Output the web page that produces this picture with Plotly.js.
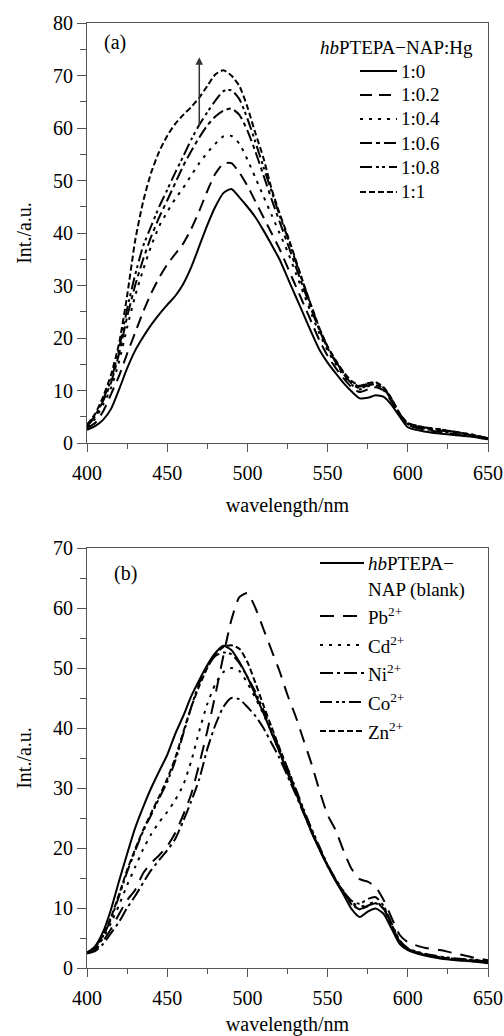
<!DOCTYPE html>
<html>
<head>
<meta charset="utf-8">
<script src="https://cdn.plot.ly/plotly-3.0.1.min.js"></script>
<style>html,body{margin:0;padding:0;background:#fff;}#chart{width:504px;height:1036px;}</style>
</head>
<body>
<div id="chart"></div>
<script>
// wavelength grid (nm)
const wavelength = [400,405,410,415,420,425,430,435,440,445,450,455,460,465,470,475,480,485,490,495,500,505,510,515,520,525,530,535,540,545,550,555,560,565,570,575,580,585,590,595,600,610,620,630,640,650];

// panel (a): hbPTEPA-NAP:Hg ratios
const ratioNames = ["1:0","1:0.2","1:0.4","1:0.6","1:0.8","1:1"];
const a_1_0   = [2.5,3.2,4.4,6.5,10.2,14.2,17.6,20.2,22.5,24.5,26.3,28,30.3,33.5,37.5,41.5,45,47.6,48.4,46.8,45,43,40.5,37.8,35,31.5,28,24.5,21,17.7,15.3,13.3,11.4,9.8,8.5,8.6,9.1,8.8,7.2,5.0,3.0,2.2,1.8,1.5,1.2,0.7];
const a_1_02  = [2.8,3.8,6.0,9.3,12.8,17,21,25,28.5,31.5,34,36,38,40.8,44.2,48,51.3,53.2,53.3,51.5,49,46,43,40,37,33.5,30,26.5,23,19.5,16.6,14.3,12.3,10.6,9.7,10.2,10.6,10.0,7.8,5.2,3.4,2.6,2.1,1.7,1.3,0.8];
const a_1_04  = [3.0,4.6,7.3,10.5,15.5,22,28,33,37.5,41.3,44,46.5,48.6,51,53.3,55.3,57,58.4,58.5,57,54,50.5,47,43.5,40,36.5,32.5,28.5,24.5,20.8,17.6,15.0,12.8,11.1,10.2,10.8,11.0,10.2,8.0,5.3,3.5,2.7,2.3,1.8,1.4,0.8];
const a_1_06  = [3.2,5.0,8.0,11.5,17,24,30,35,39.3,43,46.2,49.5,52.8,55.6,58.2,60.5,62.2,63.3,63.7,62.5,59.5,55.5,51,46.5,42.2,38,33.7,29.5,25.3,21.4,18.1,15.4,13.1,11.3,10.4,11.0,11.2,10.3,8.1,5.4,3.6,2.8,2.4,2.0,1.5,0.9];
const a_1_08  = [3.3,5.2,8.3,12,18,25.5,32,37.5,41.3,45,48.2,51.5,54.6,57.8,60.6,63,65.2,67,67.2,65.5,61.8,57.3,52.6,48,43.4,39.2,34.7,30.2,25.9,21.7,18.3,15.6,13.3,11.6,10.7,11.3,11.5,10.5,8.3,5.5,3.8,3.0,2.6,2.1,1.6,0.9];
const a_1_1   = [3.5,5.5,8.8,13,19,28,38.5,46,51.5,55.5,58.5,60.8,62.5,64,65.8,68,70.2,71,70,68,64,59,54.3,48.5,43.8,39.6,35,30.4,26,21.8,18.4,15.8,13.5,11.8,10.9,11.4,11.6,10.6,8.4,5.6,3.8,3.0,2.6,2.1,1.6,0.9];

// panel (b): metal ions
const ionNames = ["<i>hb</i>PTEPA−NAP (blank)","Pb<sup>2+</sup>","Cd<sup>2+</sup>","Ni<sup>2+</sup>","Co<sup>2+</sup>","Zn<sup>2+</sup>"];
const b_blank = [2.5,3.6,6,9.8,14.5,19,23.3,26.8,30,32.8,35.5,39,42,45.3,48,50.5,52.5,53.7,53,51,48.5,45.5,42.5,39.2,36,32.5,29.3,26,22.6,19.7,17,14.5,12.2,9.8,8.5,9.4,9.9,9.0,6.5,4.0,3.0,2.1,1.6,1.3,1.1,0.8];
const b_pb    = [2.5,3.0,4.5,6.5,9,11.3,13,15.8,17.5,18.8,20.3,22.5,25.5,29,34,39.5,45.5,52,58,61.8,62.5,60,56.5,53,49.5,45.5,42,38,34,29.5,25.5,23,19.5,16.5,14.8,14.4,13.5,11.3,8.3,5.5,4.3,3.4,3.0,2.4,1.8,1.3];
const b_cd    = [2.5,3.2,5,7.5,10.5,13.8,16.8,19.8,22.3,24.3,26,28,30.5,34.5,39.5,44,47.3,49.3,50,49.5,47.5,45,42.3,39.3,36,32.8,29.5,26,22.8,19.8,17.2,14.8,12.8,11,10.2,10.6,11,10,7.2,4.5,3.2,2.3,1.8,1.5,1.3,1.2];
const b_ni    = [2.4,2.8,4.0,5.8,7.7,10,12,14.2,16.3,18,19.6,21.5,24.5,27.8,31.5,36.5,40.5,43.5,45,44.8,43.5,42,40,37.5,35,32,29,25.8,22.7,19.8,17,14.6,12.6,10.8,9.8,10.4,10.8,9.8,7.1,4.4,3.1,2.2,1.7,1.4,1.2,1.0];
const b_co    = [2.6,3.3,5.3,8.2,12,16,19.5,22.8,25.5,28.3,31,34.5,39,43.5,47.5,50.3,52,52.6,52.3,50.8,48.5,46,43,39.8,36.5,33.3,30,26.5,23.2,20.2,17.2,14.8,12.7,11.2,10.7,11.5,11.8,10.3,7.4,4.6,3.3,2.4,1.9,1.6,1.4,1.2];
const b_zn    = [2.6,3.4,5.5,8.5,12.3,16.3,19.8,23,25.8,28.6,31.5,35,39.3,43.5,47,50,52.3,53.5,53.8,53.2,51,47.5,43.8,40.2,36.7,33.2,29.7,26.2,22.9,19.9,17.1,14.7,12.6,10.6,9.8,10.3,10.8,9.9,7.0,4.4,3.2,2.3,1.8,1.5,1.3,1.1];

const FONT = "Liberation Serif, Times New Roman, serif";
const dashA = ["solid","12px,7px","3px,6px","12px,4px,4px,4px","12px,4px,3px,3px,3px,4px","6px,3px"];
const dashB = ["solid","14px,9px","3px,6px","13px,4px,3px,4px","12px,4px,3px,3px,3px,4px","6px,3px"];

const seriesA = [a_1_0,a_1_02,a_1_04,a_1_06,a_1_08,a_1_1];
const seriesB = [b_blank,b_pb,b_cd,b_ni,b_co,b_zn];

const traces = [];
seriesA.forEach((ys,i)=>traces.push({x:wavelength,y:ys,name:ratioNames[i],type:"scatter",mode:"lines",
  line:{color:"#000",width:2,dash:dashA[i],shape:"spline",smoothing:0.6},xaxis:"x",yaxis:"y",showlegend:false,hoverinfo:"skip"}));
seriesB.forEach((ys,i)=>traces.push({x:wavelength,y:ys,name:ionNames[i],type:"scatter",mode:"lines",
  line:{color:"#000",width:2,dash:dashB[i],shape:"spline",smoothing:0.6},xaxis:"x2",yaxis:"y2",showlegend:false,hoverinfo:"skip"}));

// pixel -> paper helpers (plot area: x 87..488, y 23..968)
const PX = p => (p-87)/401;
const PY = p => (968-p)/945;

const axisCommon = {showline:true,linecolor:"#555",linewidth:1,mirror:true,ticks:"outside",ticklen:8,tickwidth:1,tickcolor:"#555",
  showgrid:false,zeroline:false,tickfont:{family:FONT,size:20,color:"#000"}};

const xax = (anchor)=>Object.assign({},axisCommon,{anchor:anchor,range:[400,650],dtick:50,tick0:400,ticklabelstandoff:4,
  minor:{ticks:"outside",ticklen:5,dtick:25,tickcolor:"#555",showgrid:false},
  title:{text:"wavelength/nm",font:{family:FONT,size:20,color:"#000"},standoff:14}});
const yax = (anchor,domain,top)=>Object.assign({},axisCommon,{anchor:anchor,domain:domain,range:[0,top],dtick:10,tick0:0,ticklen:9,
  minor:{ticks:"outside",ticklen:6,dtick:5,tickcolor:"#555",showgrid:false},
  title:{text:"Int./a.u.",font:{family:FONT,size:20,color:"#000"},standoff:16}});

const shapes = [];
const annotations = [];
function legendItem(x0,x1,py,dash,tx,text){
  shapes.push({type:"line",xref:"paper",yref:"paper",x0:PX(x0),x1:PX(x1),y0:PY(py),y1:PY(py),line:{color:"#000",width:2,dash:dash}});
  annotations.push({xref:"paper",yref:"paper",x:PX(tx),y:PY(py),xanchor:"left",yanchor:"middle",showarrow:false,text:text,
    font:{family:FONT,size:19,color:"#000"}});
}
// legend (a)
annotations.push({xref:"paper",yref:"paper",x:PX(475),y:PY(47),xanchor:"right",yanchor:"middle",showarrow:false,
  text:"<i>hb</i>PTEPA−NAP:Hg",font:{family:FONT,size:19,color:"#000"}});
const legAy = [71,95,119,143,167,192];
ratioNames.forEach((n,i)=>legendItem(360,397,legAy[i],dashA[i],399,n));
// legend (b)
const legBy = [563,616,645,673,702,731];
const legBtext = ["<i>hb</i>PTEPA−","Pb<sup>2+</sup>","Cd<sup>2+</sup>","Ni<sup>2+</sup>","Co<sup>2+</sup>","Zn<sup>2+</sup>"];
legBtext.forEach((t,i)=>legendItem(320,364,legBy[i],dashB[i],366,t));
annotations.push({xref:"paper",yref:"paper",x:PX(366),y:PY(590),xanchor:"left",yanchor:"middle",showarrow:false,
  text:"NAP (blank)",font:{family:FONT,size:19,color:"#000"}});

// panel labels
annotations.push({xref:"x",yref:"y",x:417.5,y:76.2,showarrow:false,text:"(a)",font:{family:FONT,size:20,color:"#000"}});
annotations.push({xref:"x2",yref:"y2",x:424,y:65.8,showarrow:false,text:"(b)",font:{family:FONT,size:20,color:"#000"}});
// arrow in (a)
annotations.push({xref:"x",yref:"y",axref:"x",ayref:"y",x:470,y:73.5,ax:470,ay:60,showarrow:true,text:"",
  arrowhead:2,arrowsize:1,arrowwidth:1.5,arrowcolor:"#333"});

const layout = {
  width:504,height:1036,
  margin:{l:87,r:16,t:23,b:68},
  paper_bgcolor:"#fff",plot_bgcolor:"#fff",
  font:{family:FONT,size:20,color:"#000"},
  xaxis:xax("y"),
  yaxis:yax("x",[525/945,1],80),
  xaxis2:xax("y2"),
  yaxis2:yax("x2",[0,420/945],70),
  shapes:shapes,
  annotations:annotations,
  showlegend:false
};
Plotly.newPlot("chart",traces,layout,{displayModeBar:false,staticPlot:true});
</script>
</body>
</html>
